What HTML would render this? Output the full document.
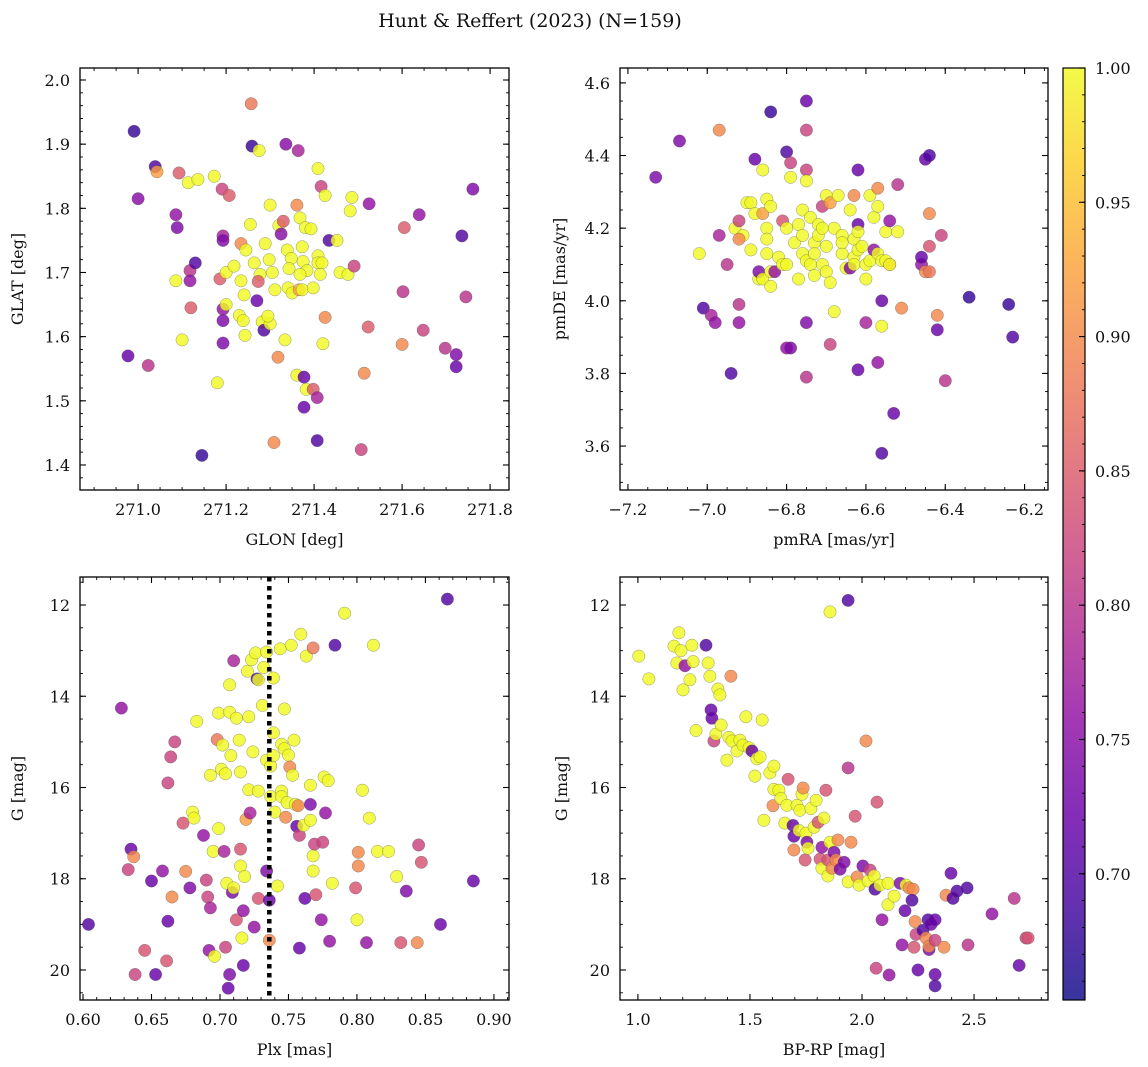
<!DOCTYPE html>
<html><head><meta charset="utf-8"><title>Hunt & Reffert (2023)</title>
<style>
html,body{margin:0;padding:0;background:#fff;}
svg{display:block;font-family:"DejaVu Serif","Liberation Serif",serif;}
</style></head>
<body>
<svg id="fig" width="1148" height="1067" viewBox="0 0 1148 1067" xmlns="http://www.w3.org/2000/svg">
<defs>
<linearGradient id="plasma" x1="0" y1="1" x2="0" y2="0">
<stop offset="0" stop-color="#0d0887"/><stop offset="0.1" stop-color="#41049d"/><stop offset="0.2" stop-color="#6a00a8"/><stop offset="0.3" stop-color="#8f0da4"/><stop offset="0.4" stop-color="#b12a90"/><stop offset="0.5" stop-color="#cc4778"/><stop offset="0.6" stop-color="#e16462"/><stop offset="0.7" stop-color="#f2844b"/><stop offset="0.8" stop-color="#fca636"/><stop offset="0.9" stop-color="#fcce25"/><stop offset="1" stop-color="#f0f921"/>
</linearGradient>
</defs>
<text x="530" y="27" text-anchor="middle" font-size="19" fill="#111">Hunt &amp; Reffert (2023) (N=159)</text>
</svg>
<script>
// ---- Panel 1: GLON vs GLAT ----
const p1x=[270.991,271.039,271.043,271.0,271.093,271.114,271.136,271.173,271.086,271.089,271.118,271.130,271.086,271.118,271.120,271.100,270.977,271.023,271.145,271.180,271.191,271.207,271.193,271.193,271.186,271.193,271.193,271.193,271.2,271.2,271.218,271.234,271.245,271.234,271.241,271.230,271.239,271.243,271.257,271.259,271.275,271.255,271.264,271.277,271.273,271.270,271.282,271.286,271.3,271.295,271.289,271.3,271.298,271.305,271.311,271.318,271.309,271.334,271.336,271.320,271.330,271.339,271.348,271.343,271.325,271.341,271.35,271.364,271.361,271.368,271.373,271.380,271.393,271.375,271.384,271.368,271.366,271.373,271.398,271.361,271.377,271.377,271.382,271.398,271.407,271.407,271.409,271.416,271.425,271.409,271.409,271.418,271.414,271.425,271.420,271.434,271.452,271.459,271.477,271.482,271.486,271.491,271.507,271.514,271.523,271.525,271.605,271.602,271.6,271.639,271.648,271.698,271.723,271.723,271.736,271.745,271.761];
const p1y=[1.92,1.865,1.857,1.815,1.855,1.84,1.845,1.85,1.79,1.77,1.703,1.715,1.687,1.687,1.645,1.595,1.57,1.555,1.415,1.528,1.83,1.82,1.757,1.75,1.69,1.643,1.625,1.59,1.65,1.70,1.71,1.745,1.735,1.687,1.665,1.633,1.625,1.602,1.963,1.897,1.89,1.775,1.715,1.697,1.686,1.656,1.623,1.61,1.62,1.632,1.745,1.805,1.72,1.70,1.673,1.568,1.435,1.595,1.9,1.773,1.78,1.735,1.722,1.706,1.76,1.676,1.668,1.89,1.805,1.785,1.74,1.77,1.768,1.717,1.703,1.697,1.673,1.673,1.676,1.54,1.537,1.49,1.518,1.518,1.505,1.438,1.862,1.834,1.82,1.726,1.715,1.715,1.697,1.63,1.589,1.75,1.75,1.70,1.697,1.796,1.817,1.71,1.424,1.543,1.615,1.807,1.77,1.67,1.588,1.79,1.61,1.582,1.572,1.553,1.757,1.662,1.83];
const p1c=[0.68,0.70,0.92,0.75,0.85,1,1,1,0.76,0.74,0.8,0.7,1,0.76,0.85,1,0.72,0.8,0.68,1,0.82,0.85,0.78,0.74,0.85,0.76,0.74,0.74,1,1,1,0.9,1,1,1,1,1,1,0.88,0.68,1,1,1,1,0.85,0.72,1,0.7,1,1,1,1,1,1,1,0.9,0.9,1,0.75,1,0.85,1,1,1,0.75,1,1,0.78,0.9,1,1,1,1,1,1,1,0.92,1,1,1,0.72,0.72,1,0.85,0.78,0.7,1,0.82,1,1,1,1,1,0.9,1,0.7,1,1,1,1,1,0.82,0.82,0.9,0.85,0.76,0.85,0.8,0.9,0.76,0.82,0.8,0.74,0.72,0.7,0.8,0.74];
const p1xTicks=["271.0","271.2","271.4","271.6","271.8"];
const p1yTicks=["1.4","1.5","1.6","1.7","1.8","1.9","2.0"];

// ---- Panel 2: pmRA vs pmDE ----
const p2x=[-7.13,-7.07,-7.02,-7.01,-6.99,-6.98,-6.97,-6.97,-6.95,-6.94,-6.93,-6.92,-6.92,-6.92,-6.91,-6.90,-6.89,-6.88,-6.92,-6.89,-6.88,-6.87,-6.87,-6.86,-6.86,-6.86,-6.85,-6.85,-6.85,-6.85,-6.84,-6.84,-6.84,-6.84,-6.83,-6.82,-6.81,-6.81,-6.80,-6.80,-6.80,-6.80,-6.79,-6.79,-6.79,-6.78,-6.77,-6.77,-6.76,-6.76,-6.76,-6.75,-6.75,-6.75,-6.75,-6.75,-6.75,-6.75,-6.74,-6.74,-6.73,-6.73,-6.73,-6.72,-6.72,-6.71,-6.71,-6.71,-6.70,-6.70,-6.70,-6.69,-6.69,-6.68,-6.69,-6.68,-6.67,-6.66,-6.66,-6.66,-6.65,-6.64,-6.64,-6.63,-6.63,-6.63,-6.63,-6.62,-6.62,-6.62,-6.62,-6.62,-6.61,-6.60,-6.60,-6.60,-6.59,-6.59,-6.58,-6.58,-6.57,-6.57,-6.57,-6.56,-6.57,-6.56,-6.56,-6.55,-6.55,-6.56,-6.54,-6.54,-6.54,-6.53,-6.52,-6.52,-6.51,-6.46,-6.46,-6.45,-6.45,-6.44,-6.44,-6.44,-6.44,-6.42,-6.42,-6.41,-6.40,-6.34,-6.24,-6.23];
const p2y=[4.34,4.44,4.13,3.98,3.96,3.94,4.47,4.18,4.10,3.80,4.20,3.99,3.94,4.22,4.18,4.27,4.27,4.39,4.17,4.14,4.24,4.06,4.08,4.06,4.36,4.24,4.28,4.20,4.17,4.13,4.26,4.08,4.04,4.52,4.08,4.12,4.22,4.10,4.20,4.41,4.10,3.87,3.87,4.38,4.34,4.16,4.21,4.06,4.13,4.25,4.18,4.11,4.55,4.47,4.36,4.33,3.94,3.79,4.23,4.10,4.16,4.07,4.13,4.21,4.18,4.10,4.26,4.20,4.08,4.15,4.29,4.27,4.05,3.97,3.88,4.20,4.29,4.18,4.13,4.16,4.09,4.25,4.09,4.12,4.29,4.17,4.10,4.36,4.21,4.19,4.14,3.81,4.15,4.10,3.94,4.06,4.11,4.29,4.23,4.14,4.31,4.26,4.13,3.93,3.83,4.11,4.00,4.11,4.19,3.58,4.22,4.10,4.10,3.69,4.32,4.19,3.98,4.10,4.12,4.39,4.08,4.40,4.15,4.24,4.08,3.96,3.92,4.18,3.78,4.01,3.99,3.90];
const p2c=[0.74,0.74,1,0.7,0.78,0.76,0.9,0.78,0.8,0.7,1,0.8,0.76,0.82,1,1,1,0.72,0.9,1,1,1,0.74,1,1,0.92,1,1,1,1,1,1,1,0.68,0.76,1,0.84,1,1,0.7,1,0.76,0.74,0.82,1,1,1,1,1,1,1,1,0.72,0.82,0.82,1,0.74,0.8,1,1,1,1,1,1,1,1,0.82,1,1,1,1,0.92,1,1,0.82,1,1,1,1,1,1,1,0.74,1,0.9,1,1,0.72,0.72,1,1,0.72,1,1,0.78,1,1,1,1,0.76,0.9,1,1,1,0.76,1,0.72,1,1,0.7,0.76,0.92,1,0.72,0.8,1,0.9,0.76,0.72,0.72,0.9,0.7,0.84,0.9,0.88,0.9,0.72,0.82,0.8,0.68,0.68,0.7];
const p2xTicks=["−7.2","−7.0","−6.8","−6.6","−6.4","−6.2"];
const p2yTicks=["3.6","3.8","4.0","4.2","4.4","4.6"];

// ---- Panel 3: Plx vs G ----
const p3x=[0.604,0.628,0.633,0.635,0.637,0.638,0.645,0.650,0.653,0.658,0.661,0.662,0.662,0.664,0.667,0.665,0.673,0.675,0.678,0.680,0.681,0.683,0.688,0.690,0.691,0.692,0.693,0.693,0.695,0.696,0.698,0.699,0.699,0.702,0.701,0.704,0.703,0.704,0.705,0.706,0.707,0.707,0.707,0.708,0.709,0.710,0.710,0.712,0.712,0.714,0.715,0.715,0.715,0.716,0.717,0.717,0.718,0.719,0.720,0.721,0.721,0.722,0.723,0.724,0.725,0.726,0.727,0.728,0.728,0.728,0.731,0.732,0.734,0.734,0.734,0.736,0.736,0.737,0.737,0.739,0.739,0.739,0.740,0.742,0.744,0.745,0.745,0.745,0.747,0.747,0.748,0.749,0.750,0.751,0.752,0.753,0.754,0.755,0.756,0.757,0.758,0.758,0.759,0.761,0.762,0.763,0.766,0.766,0.766,0.768,0.768,0.768,0.769,0.770,0.774,0.775,0.776,0.779,0.777,0.782,0.780,0.784,0.791,0.799,0.800,0.801,0.801,0.804,0.807,0.809,0.812,0.815,0.823,0.829,0.832,0.836,0.844,0.845,0.847,0.861,0.866,0.885];
const p3y=[19.0,14.26,17.8,17.35,17.52,20.1,19.57,18.05,20.1,17.83,19.8,18.93,15.9,15.33,15.0,18.4,16.78,17.84,18.2,16.54,16.67,14.55,17.05,18.03,18.4,19.57,18.64,15.73,17.4,19.7,14.95,16.9,14.37,15.07,15.6,15.7,17.4,19.5,18.1,20.4,20.1,13.75,14.35,15.3,18.3,13.22,18.2,18.9,14.48,14.96,15.66,17.72,17.35,19.3,19.9,18.7,17.95,16.7,13.45,14.45,16.05,16.56,13.2,15.22,19.06,13.05,13.62,13.64,16.08,18.43,14.2,13.37,13.03,15.4,17.83,18.47,19.35,15.53,16.2,13.6,14.8,15.3,16.54,18.16,12.96,15.05,16.08,16.2,14.28,15.15,16.65,16.33,15.29,15.55,12.88,15.73,14.96,16.37,16.85,16.4,19.52,17.05,12.64,16.83,18.43,13.12,15.95,16.37,16.72,17.83,17.5,12.94,17.24,18.35,18.9,17.2,15.77,15.85,16.56,18.1,19.37,12.88,12.18,18.2,18.9,17.42,17.72,16.06,19.4,16.67,12.88,17.4,17.4,17.95,19.4,18.27,19.4,17.26,17.64,19.0,11.87,18.05];
const p3c=[0.7,0.76,0.82,0.72,0.9,0.82,0.84,0.72,0.72,0.76,0.84,0.72,0.82,0.82,0.82,0.9,0.84,0.9,0.74,1,1,1,0.76,0.82,0.82,0.76,0.78,1,1,1,0.88,1,1,1,1,1,0.78,0.82,1,0.72,0.74,1,1,1,0.74,0.78,1,0.84,1,1,1,1,0.84,1,0.72,0.76,1,0.92,1,1,1,0.78,1,1,0.76,1,0.7,1,1,0.84,1,1,1,1,0.74,0.72,0.9,1,1,1,1,1,1,1,1,1,1,1,1,1,0.9,1,1,0.9,1,1,1,1,0.72,0.9,0.72,0.82,1,1,0.72,1,1,0.74,1,1,1,0.88,0.82,0.84,0.76,0.82,1,1,0.76,1,0.76,0.7,1,0.84,1,0.9,0.9,1,0.76,1,1,1,1,1,0.84,0.74,0.9,0.82,0.84,0.72,0.7,0.72];
const p3xTicks=["0.60","0.65","0.70","0.75","0.80","0.85","0.90"];
const p3yTicks=["12","14","16","18","20"];
const plxLine=[0.736];

// ---- Panel 4: BP-RP vs G ----
const p4x=[1.004,1.049,1.161,1.174,1.183,1.192,1.201,1.210,1.232,1.246,1.241,1.259,1.304,1.313,1.321,1.326,1.330,1.339,1.348,1.357,1.366,1.371,1.397,1.406,1.415,1.420,1.442,1.455,1.469,1.482,1.496,1.509,1.522,1.531,1.545,1.554,1.562,1.589,1.603,1.607,1.607,1.629,1.638,1.656,1.665,1.670,1.692,1.696,1.696,1.710,1.719,1.723,1.732,1.737,1.746,1.75,1.754,1.759,1.772,1.786,1.795,1.804,1.813,1.821,1.821,1.830,1.839,1.848,1.848,1.857,1.857,1.866,1.875,1.884,1.893,1.902,1.920,1.938,1.938,1.938,1.951,1.969,1.978,1.987,2.004,2.018,2.027,2.036,2.054,2.058,2.063,2.067,2.080,2.089,2.116,2.116,2.121,2.143,2.170,2.179,2.192,2.196,2.210,2.228,2.223,2.232,2.237,2.241,2.25,2.272,2.286,2.295,2.299,2.299,2.308,2.326,2.326,2.326,2.326,2.366,2.375,2.397,2.406,2.424,2.469,2.473,2.580,2.679,2.701,2.732,2.741];
const p4y=[13.12,13.62,12.9,13.27,12.61,13.0,13.86,13.33,13.64,13.24,12.88,14.75,12.88,13.27,13.56,14.3,14.48,14.98,14.83,13.84,13.97,14.63,15.4,14.9,13.56,14.98,15.2,14.96,15.07,14.45,15.13,15.2,15.75,15.37,15.33,14.52,16.72,15.68,16.4,15.53,16.04,16.06,16.24,16.78,16.39,15.82,16.83,17.07,17.37,16.39,16.94,16.5,16.15,16.01,17.59,17.0,17.2,17.33,16.46,16.87,16.28,16.76,17.57,17.77,17.31,16.67,16.06,17.94,17.59,17.2,12.15,17.77,17.42,17.59,17.15,17.79,17.64,15.57,11.9,18.07,17.2,16.63,17.96,18.14,17.72,14.98,18.05,17.81,17.94,18.23,19.96,16.32,18.14,18.9,18.1,18.57,20.11,18.38,18.1,19.45,18.7,18.14,18.2,18.23,18.47,19.5,18.94,19.22,20.0,19.13,19.3,18.9,19.55,19.48,19.0,19.35,18.9,20.1,20.35,19.5,18.36,17.88,18.43,18.27,18.2,19.45,18.77,18.43,19.9,19.3,19.3];
const p4c=[1,1,1,1,1,1,1,0.76,1,1,1,1,0.7,1,1,0.72,0.72,0.82,1,1,1,1,1,1,0.9,1,1,1,1,1,1,0.72,1,1,1,1,1,1,0.9,1,1,1,1,1,1,0.84,0.72,0.72,0.9,1,1,1,1,0.9,0.84,1,0.74,1,1,1,1,0.84,0.84,1,0.76,1,0.84,1,0.84,1,1,0.9,0.74,0.9,0.9,0.74,0.74,0.8,0.7,1,0.9,0.84,0.9,1,0.74,0.9,1,0.82,1,0.7,0.82,0.84,1,0.76,1,1,0.76,1,0.74,0.76,0.72,1,0.9,0.9,0.7,0.84,0.9,0.82,0.72,0.7,0.9,0.7,0.74,0.9,0.72,0.82,0.72,0.72,0.7,0.9,0.9,0.72,0.7,0.7,0.7,0.8,0.76,0.8,0.72,0.82,0.84];
const p4xTicks=["1.0","1.5","2.0","2.5"];
const p4yTicks=["12","14","16","18","20"];

// ---- Colorbar ----
const cbTicks=["0.70","0.75","0.80","0.85","0.90","0.95","1.00"];
const cbMin=0.653, cbMax=1.0;

const NS="http://www.w3.org/2000/svg";
const svg=document.getElementById('fig');
function mk(tag,attrs,parent){const e=document.createElementNS(NS,tag);for(const k in attrs)e.setAttribute(k,attrs[k]);(parent||svg).appendChild(e);return e;}
const stops=[[13,8,135],[65,4,157],[106,0,168],[143,13,164],[177,42,144],[204,71,120],[225,100,98],[242,132,75],[252,166,54],[252,206,37],[240,249,33]];
function plasma(v){let t=(v-cbMin)/(cbMax-cbMin);t=Math.max(0,Math.min(1,t))*10;const i=Math.min(9,Math.floor(t)),f=t-i;const a=stops[i],b=stops[i+1];return 'rgb('+[0,1,2].map(k=>Math.round(a[k]+(b[k]-a[k])*f)).join(',')+')';}

function panel(o){
  const g=mk('g',{});
  
  
  const sx=v=>o.x0+(v-o.xmin)/(o.xmax-o.xmin)*(o.x1-o.x0);
  const sy=o.invert?(v=>o.y0+(v-o.ymin)/(o.ymax-o.ymin)*(o.y1-o.y0)):(v=>o.y1-(v-o.ymin)/(o.ymax-o.ymin)*(o.y1-o.y0));
  const pg=mk('g',{},g);
  for(let i=0;i<o.xs.length;i++){
    const c=mk('circle',{cx:sx(o.xs[i]).toFixed(1),cy:sy(o.ys[i]).toFixed(1),r:6.2,fill:plasma(o.cs[i]),'fill-opacity':0.82,stroke:'#555','stroke-width':0.5,'stroke-opacity':0.6},pg);
    
    
  }
  if(o.extra)o.extra(g,sx,sy);
  const fr=mk('rect',{x:o.x0,y:o.y0,width:o.x1-o.x0,height:o.y1-o.y0,fill:'none',stroke:'#000','stroke-width':1.3},g);
  
  
  for(let v=Math.ceil(o.xmin/o.xminor-1e-9)*o.xminor;v<=o.xmax;v+=o.xminor){const p=sx(v);mk('line',{x1:p,x2:p,y1:o.y1,y2:o.y1-3,stroke:'#000','stroke-width':0.9},g);mk('line',{x1:p,x2:p,y1:o.y0,y2:o.y0+3,stroke:'#000','stroke-width':0.9},g);}
  for(let v=Math.ceil(o.ymin/o.yminor-1e-9)*o.yminor;v<=o.ymax;v+=o.yminor){const p=sy(v);mk('line',{x1:o.x0,x2:o.x0+3,y1:p,y2:p,stroke:'#000','stroke-width':0.9},g);mk('line',{x1:o.x1,x2:o.x1-3,y1:p,y2:p,stroke:'#000','stroke-width':0.9},g);}
  o.xt.forEach(s=>{const v=parseFloat(s.replace('−','-'));const p=sx(v);
    mk('line',{x1:p,x2:p,y1:o.y1,y2:o.y1-6,stroke:'#000','stroke-width':1.1},g);mk('line',{x1:p,x2:p,y1:o.y0,y2:o.y0+6,stroke:'#000','stroke-width':1.1},g);
    const t=mk('text',{x:p,y:o.y1+25,'text-anchor':'middle','font-size':16,fill:'#111'},g);t.textContent=s;
    
    });
  o.yt.forEach(s=>{const v=parseFloat(s);const p=sy(v);
    mk('line',{x1:o.x0,x2:o.x0+6,y1:p,y2:p,stroke:'#000','stroke-width':1.1},g);mk('line',{x1:o.x1,x2:o.x1-6,y1:p,y2:p,stroke:'#000','stroke-width':1.1},g);
    const t=mk('text',{x:o.x0-10,y:p+6,'text-anchor':'end','font-size':16,fill:'#111'},g);t.textContent=s;
    
    });
  const xl=mk('text',{x:(o.x0+o.x1)/2,y:o.y1+55,'text-anchor':'middle','font-size':16,fill:'#111'},g);xl.textContent=o.xlab;
  
  
  const yx=o.ylx,yy=(o.y0+o.y1)/2;
  const yl=mk('text',{x:yx,y:yy,'text-anchor':'middle','font-size':16,fill:'#111',transform:'rotate(-90 '+yx+' '+yy+')'},g);yl.textContent=o.ylab;
  
  
}

panel({name:'glon-glat-panel',x0:80,x1:509,y0:68,y1:490,xmin:270.868,xmax:271.843,ymin:1.361,ymax:2.0187,xs:p1x,ys:p1y,cs:p1c,xt:p1xTicks,yt:p1yTicks,xminor:0.05,yminor:0.02,xlab:'GLON [deg]',ylab:'GLAT [deg]',ylx:23});
panel({name:'proper-motion-panel',x0:620,x1:1048,y0:68,y1:490,xmin:-7.220,xmax:-6.141,ymin:3.479,ymax:4.641,xs:p2x,ys:p2y,cs:p2c,xt:p2xTicks,yt:p2yTicks,xminor:0.05,yminor:0.05,xlab:'pmRA [mas/yr]',ylab:'pmDE [mas/yr]',ylx:565});
panel({name:'parallax-magnitude-panel',x0:80,x1:509,y0:577,y1:1000,xmin:0.5978,xmax:0.911,ymin:11.386,ymax:20.658,invert:true,xs:p3x,ys:p3y,cs:p3c,xt:p3xTicks,yt:p3yTicks,xminor:0.01,yminor:0.5,xlab:'Plx [mas]',ylab:'G [mag]',ylx:23,
  extra:(g,sx,sy)=>{plxLine.forEach(v=>{const l=mk('line',{x1:sx(v),x2:sx(v),y1:577,y2:1000,stroke:'#000','stroke-width':4.5,'stroke-dasharray':'4.5 4.5'},g);
    
    });}});
panel({name:'color-magnitude-panel',x0:620,x1:1048,y0:577,y1:1000,xmin:0.92,xmax:2.830,ymin:11.386,ymax:20.658,invert:true,xs:p4x,ys:p4y,cs:p4c,xt:p4xTicks,yt:p4yTicks,xminor:0.1,yminor:0.5,xlab:'BP-RP [mag]',ylab:'G [mag]',ylx:567});

(function(){
  const g=mk('g',{});
  
  
  const x0=1063,x1=1085,y0=68,y1=1000;
  mk('rect',{x:x0,y:y0,width:x1-x0,height:y1-y0,fill:'url(#plasma)',opacity:0.82},g);
  mk('rect',{x:x0,y:y0,width:x1-x0,height:y1-y0,fill:'none',stroke:'#000','stroke-width':1.2},g);
  const sy=v=>y1-(v-cbMin)/(cbMax-cbMin)*(y1-y0);
  for(let v=0.66;v<=1.0001;v+=0.01){const p=sy(v);mk('line',{x1:x1,x2:x1-3,y1:p,y2:p,stroke:'#000','stroke-width':0.9},g);}
  cbTicks.forEach(s=>{const p=sy(parseFloat(s));mk('line',{x1:x1,x2:x1-6,y1:p,y2:p,stroke:'#000','stroke-width':1.1},g);
    const t=mk('text',{x:x1+10,y:p+6,'font-size':16,fill:'#111'},g);t.textContent=s;
    
    });
})();
</script>
</body></html>
